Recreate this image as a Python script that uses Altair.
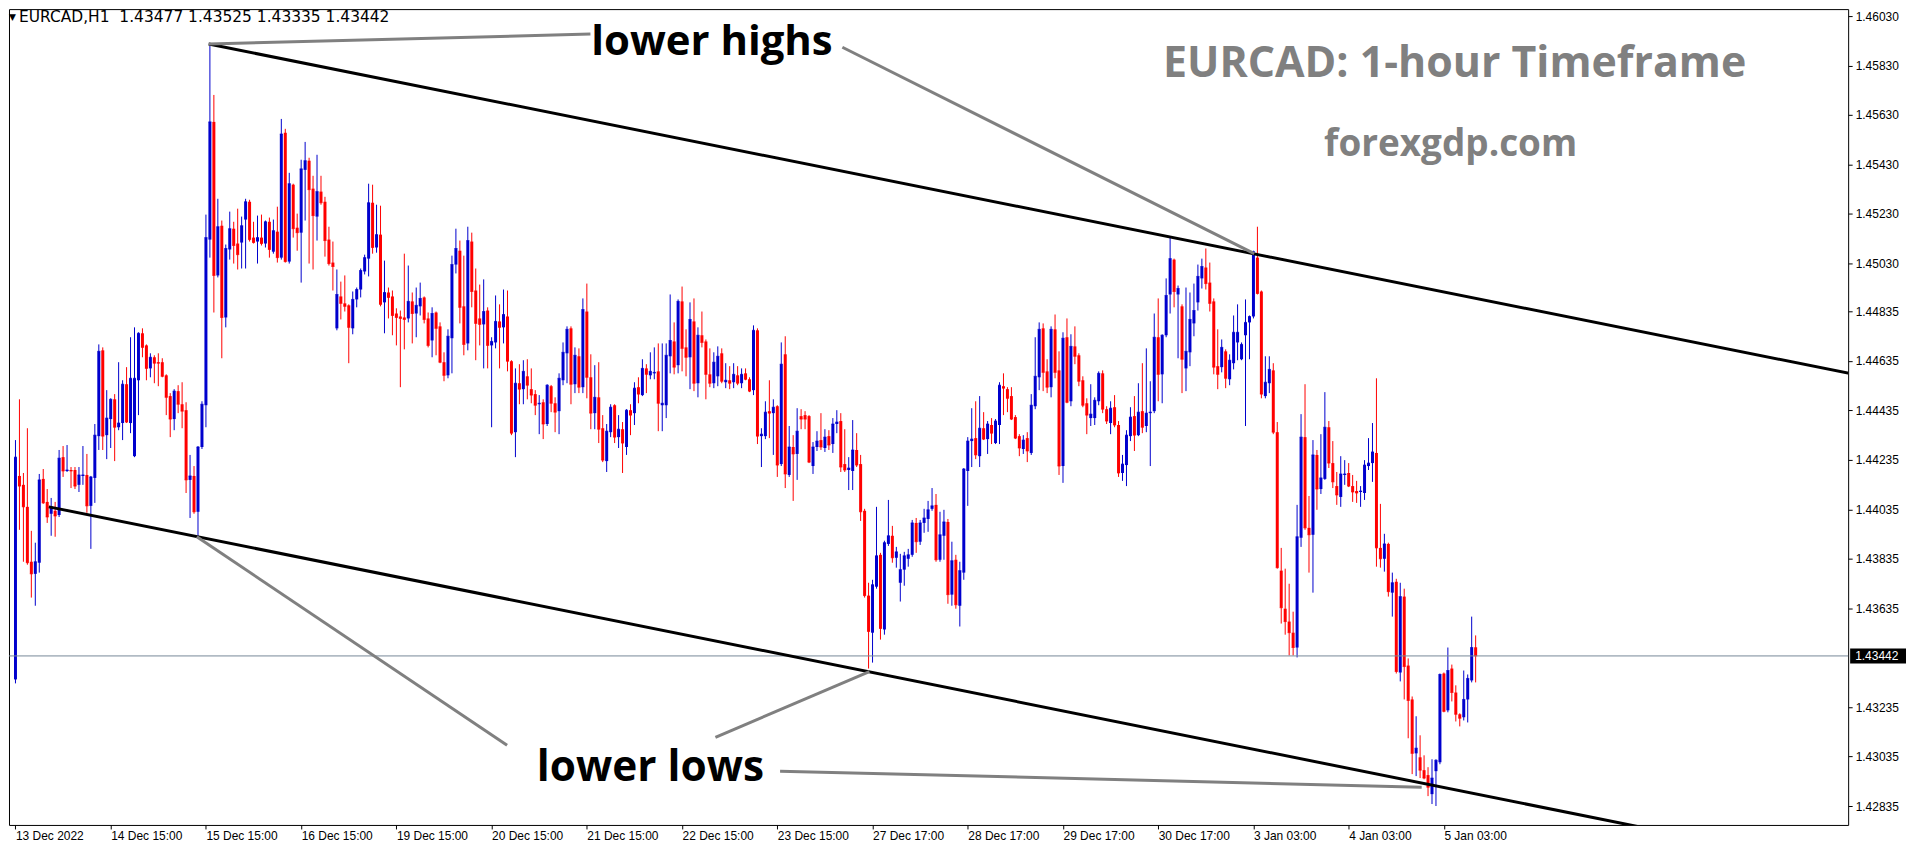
import altair as alt
import pandas as pd

# ---------------- data (EURCAD H1 candles) ----------------
OPEN = [
    1.43347, 1.44170, 1.44134, 1.44045, 1.43823, 1.43774, 1.43819, 1.44158, 1.44065, 1.44017,
    1.44029, 1.44012, 1.44246, 1.44190, 1.44194, 1.44194, 1.44134, 1.44170, 1.44174, 1.44049,
    1.44162, 1.44331, 1.44678, 1.44335, 1.44400, 1.44480, 1.44367, 1.44384, 1.44541, 1.44384,
    1.44250, 1.44557, 1.44747, 1.44698, 1.44605, 1.44650, 1.44630, 1.44630, 1.44577, 1.44493,
    1.44400, 1.44513, 1.44460, 1.44436, 1.44154, 1.44170, 1.44025, 1.44287, 1.44456, 1.45126,
    1.45602, 1.44981, 1.45182, 1.44811, 1.45086, 1.45170, 1.45110, 1.45114, 1.45207, 1.45279,
    1.45134, 1.45118, 1.45134, 1.45110, 1.45198, 1.45077, 1.45158, 1.45053, 1.45558, 1.45037,
    1.45348, 1.45174, 1.45154, 1.45408, 1.45445, 1.45332, 1.45219, 1.45320, 1.45279, 1.45126,
    1.45033, 1.44767, 1.44896, 1.44868, 1.44860, 1.44767, 1.44884, 1.44924, 1.44997, 1.45049,
    1.45275, 1.45094, 1.45146, 1.44872, 1.44912, 1.44896, 1.44827, 1.44815, 1.44811, 1.44807,
    1.44876, 1.44827, 1.44856, 1.44892, 1.44807, 1.44718, 1.44831, 1.44775, 1.44630, 1.44577,
    1.44727, 1.45025, 1.45081, 1.44856, 1.44706, 1.45118, 1.44920, 1.44807, 1.44783, 1.44839,
    1.44698, 1.44710, 1.44795, 1.44771, 1.44815, 1.44634, 1.44347, 1.44545, 1.44521, 1.44573,
    1.44521, 1.44501, 1.44460, 1.44468, 1.44380, 1.44533, 1.44464, 1.44432, 1.44557, 1.44666,
    1.44767, 1.44541, 1.44654, 1.44529, 1.44835, 1.44569, 1.44424, 1.44488, 1.44363, 1.44230,
    1.44347, 1.44456, 1.44327, 1.44359, 1.44287, 1.44436, 1.44424, 1.44529, 1.44497, 1.44605,
    1.44577, 1.44585, 1.44593, 1.44456, 1.44456, 1.44654, 1.44714, 1.44618, 1.44876, 1.44690,
    1.44650, 1.44795, 1.44545, 1.44739, 1.44714, 1.44581, 1.44545, 1.44573, 1.44666, 1.44549,
    1.44557, 1.44549, 1.44577, 1.44545, 1.44585, 1.44561, 1.44517, 1.44759, 1.44331, 1.44331,
    1.44432, 1.44424, 1.44452, 1.44218, 1.44662, 1.44174, 1.44287, 1.44259, 1.44412, 1.44416,
    1.44412, 1.44210, 1.44287, 1.44315, 1.44283, 1.44331, 1.44299, 1.44380, 1.44392, 1.44218,
    1.44194, 1.44190, 1.44275, 1.44218, 1.44029, 1.43686, 1.43536, 1.43722, 1.43851, 1.43549,
    1.43895, 1.43928, 1.43839, 1.43738, 1.43791, 1.43835, 1.43851, 1.43980, 1.43904, 1.43980,
    1.43996, 1.44037, 1.44053, 1.43831, 1.43928, 1.43984, 1.43690, 1.43831, 1.43645, 1.43779,
    1.44190, 1.44311, 1.44323, 1.44250, 1.44363, 1.44319, 1.44376, 1.44303, 1.44376, 1.44533,
    1.44521, 1.44493, 1.44408, 1.44331, 1.44279, 1.44323, 1.44263, 1.44452, 1.44569, 1.44767,
    1.44593, 1.44529, 1.44763, 1.44597, 1.44210, 1.44731, 1.44472, 1.44694, 1.44658, 1.44557,
    1.44464, 1.44404, 1.44404, 1.44472, 1.44585, 1.44440, 1.44384, 1.44448, 1.44376, 1.44182,
    1.44214, 1.44331, 1.44412, 1.44335, 1.44432, 1.44372, 1.44424, 1.44432, 1.44731, 1.44581,
    1.44739, 1.44904, 1.45045, 1.44904, 1.44856, 1.44605, 1.44670, 1.44787, 1.44872, 1.44969,
    1.45013, 1.44952, 1.44876, 1.44614, 1.44610, 1.44674, 1.44561, 1.44626, 1.44710, 1.44642,
    1.44739, 1.44791, 1.44815, 1.45053, 1.44916, 1.44493, 1.44545, 1.44597, 1.44347, 1.43787,
    1.43633, 1.43581, 1.43536, 1.43476, 1.43920, 1.44327, 1.43960, 1.43932, 1.44255, 1.44117,
    1.44158, 1.44367, 1.44222, 1.44129, 1.44085, 1.44174, 1.44182, 1.44129, 1.44109, 1.44105,
    1.44101, 1.44210, 1.44222, 1.44263, 1.43879, 1.43835, 1.43895, 1.43698, 1.43742, 1.43375,
    1.43682, 1.43403, 1.43266, 1.43048, 1.43032, 1.42980, 1.42960, 1.42883, 1.42976, 1.43012,
    1.43371, 1.43222, 1.43391, 1.43294, 1.43206, 1.43194, 1.43266, 1.43343, 1.43477,
]
HIGH = [
    1.44315, 1.44480, 1.44182, 1.44363, 1.43948, 1.43900, 1.44178, 1.44198, 1.44117, 1.44081,
    1.44065, 1.44275, 1.44291, 1.44295, 1.44206, 1.44206, 1.44206, 1.44291, 1.44259, 1.44170,
    1.44380, 1.44702, 1.44690, 1.44517, 1.44484, 1.44501, 1.44630, 1.44557, 1.44610, 1.44731,
    1.44771, 1.44751, 1.44767, 1.44702, 1.44666, 1.44658, 1.44666, 1.44646, 1.44581, 1.44505,
    1.44521, 1.44537, 1.44549, 1.44468, 1.44255, 1.44210, 1.44291, 1.44472, 1.45227, 1.45917,
    1.45711, 1.45291, 1.45203, 1.45106, 1.45239, 1.45198, 1.45251, 1.45219, 1.45291, 1.45287,
    1.45198, 1.45223, 1.45227, 1.45203, 1.45215, 1.45207, 1.45259, 1.45614, 1.45574, 1.45396,
    1.45352, 1.45231, 1.45449, 1.45521, 1.45457, 1.45384, 1.45469, 1.45384, 1.45299, 1.45178,
    1.45118, 1.45005, 1.44956, 1.44981, 1.44864, 1.44916, 1.44932, 1.45009, 1.45065, 1.45352,
    1.45348, 1.45267, 1.45263, 1.45041, 1.44932, 1.44920, 1.44848, 1.44839, 1.45069, 1.45021,
    1.44912, 1.44932, 1.44952, 1.44896, 1.44831, 1.44852, 1.44835, 1.44791, 1.44670, 1.44763,
    1.45061, 1.45170, 1.45122, 1.45061, 1.45178, 1.45154, 1.45009, 1.44944, 1.44965, 1.44852,
    1.44731, 1.44900, 1.44864, 1.44924, 1.44920, 1.44638, 1.44605, 1.44622, 1.44638, 1.44642,
    1.44605, 1.44517, 1.44497, 1.44480, 1.44541, 1.44538, 1.44488, 1.44585, 1.44710, 1.44775,
    1.44775, 1.44690, 1.44686, 1.44888, 1.44948, 1.44662, 1.44618, 1.44630, 1.44416, 1.44380,
    1.44460, 1.44460, 1.44416, 1.44388, 1.44440, 1.44460, 1.44549, 1.44569, 1.44642, 1.44622,
    1.44670, 1.44690, 1.44706, 1.44706, 1.44706, 1.44904, 1.44791, 1.44884, 1.44936, 1.44763,
    1.44872, 1.44888, 1.44771, 1.44835, 1.44722, 1.44686, 1.44670, 1.44694, 1.44686, 1.44626,
    1.44614, 1.44626, 1.44614, 1.44605, 1.44605, 1.44569, 1.44779, 1.44767, 1.44363, 1.44472,
    1.44557, 1.44480, 1.44456, 1.44710, 1.44735, 1.44372, 1.44335, 1.44444, 1.44440, 1.44432,
    1.44416, 1.44307, 1.44351, 1.44424, 1.44359, 1.44355, 1.44404, 1.44436, 1.44424, 1.44359,
    1.44246, 1.44396, 1.44343, 1.44255, 1.44037, 1.43738, 1.43750, 1.44045, 1.43859, 1.43908,
    1.44073, 1.43968, 1.43883, 1.43855, 1.43863, 1.43875, 1.43992, 1.44000, 1.43992, 1.44037,
    1.44069, 1.44121, 1.44097, 1.44025, 1.44033, 1.43996, 1.43904, 1.43851, 1.43823, 1.44202,
    1.44327, 1.44444, 1.44472, 1.44493, 1.44428, 1.44392, 1.44404, 1.44400, 1.44549, 1.44585,
    1.44529, 1.44529, 1.44416, 1.44339, 1.44335, 1.44347, 1.44501, 1.44731, 1.44791, 1.44787,
    1.44642, 1.44775, 1.44823, 1.44674, 1.44751, 1.44807, 1.44743, 1.44775, 1.44666, 1.44573,
    1.44484, 1.44541, 1.44488, 1.44593, 1.44597, 1.44452, 1.44472, 1.44497, 1.44392, 1.44255,
    1.44355, 1.44448, 1.44493, 1.44545, 1.44626, 1.44686, 1.44553, 1.44827, 1.44888, 1.44743,
    1.44969, 1.45134, 1.45049, 1.44940, 1.44864, 1.44932, 1.44912, 1.44948, 1.45025, 1.45049,
    1.45090, 1.45033, 1.44888, 1.44763, 1.44722, 1.44682, 1.44662, 1.44819, 1.44864, 1.44710,
    1.44884, 1.44819, 1.45081, 1.45178, 1.44920, 1.44654, 1.44654, 1.44626, 1.44388, 1.43879,
    1.43795, 1.43734, 1.43621, 1.44053, 1.44420, 1.44541, 1.44089, 1.44315, 1.44275, 1.44339,
    1.44509, 1.44392, 1.44311, 1.44186, 1.44250, 1.44234, 1.44222, 1.44174, 1.44150, 1.44129,
    1.44234, 1.44323, 1.44384, 1.44565, 1.44057, 1.43936, 1.43900, 1.43779, 1.43754, 1.43738,
    1.43714, 1.43432, 1.43278, 1.43198, 1.43121, 1.43040, 1.42992, 1.43024, 1.43024, 1.43371,
    1.43375, 1.43476, 1.43407, 1.43323, 1.43210, 1.43383, 1.43367, 1.43601, 1.43525,
]
LOW = [
    1.43331, 1.43952, 1.43823, 1.43811, 1.43678, 1.43645, 1.43779, 1.44057, 1.43980, 1.43928,
    1.43924, 1.44004, 1.44166, 1.44186, 1.44121, 1.44117, 1.44105, 1.44134, 1.44021, 1.43875,
    1.44061, 1.44275, 1.44275, 1.44238, 1.44283, 1.44230, 1.44355, 1.44315, 1.44384, 1.44343,
    1.44246, 1.44416, 1.44650, 1.44557, 1.44569, 1.44545, 1.44533, 1.44569, 1.44416, 1.44327,
    1.44355, 1.44424, 1.44363, 1.44101, 1.44000, 1.44017, 1.43924, 1.44279, 1.44367, 1.45053,
    1.44831, 1.44973, 1.44646, 1.44771, 1.45045, 1.45029, 1.45005, 1.45009, 1.45009, 1.45118,
    1.45110, 1.45029, 1.45102, 1.45094, 1.45053, 1.45069, 1.45033, 1.45045, 1.45033, 1.45029,
    1.45134, 1.45081, 1.44952, 1.45203, 1.45029, 1.45005, 1.45122, 1.45267, 1.45057, 1.45021,
    1.44920, 1.44759, 1.44803, 1.44835, 1.44626, 1.44743, 1.44852, 1.44892, 1.44985, 1.44977,
    1.45069, 1.45073, 1.44856, 1.44747, 1.44807, 1.44739, 1.44698, 1.44529, 1.44682, 1.44791,
    1.44706, 1.44731, 1.44819, 1.44787, 1.44690, 1.44650, 1.44658, 1.44626, 1.44553, 1.44565,
    1.44585, 1.44989, 1.44787, 1.44658, 1.44678, 1.44852, 1.44638, 1.44698, 1.44605, 1.44605,
    1.44367, 1.44686, 1.44605, 1.44706, 1.44593, 1.44335, 1.44246, 1.44460, 1.44460, 1.44480,
    1.44464, 1.44416, 1.44339, 1.44319, 1.44372, 1.44428, 1.44347, 1.44339, 1.44537, 1.44545,
    1.44460, 1.44505, 1.44505, 1.44505, 1.44484, 1.44359, 1.44359, 1.44303, 1.44226, 1.44186,
    1.44327, 1.44303, 1.44283, 1.44182, 1.44255, 1.44335, 1.44376, 1.44464, 1.44493, 1.44505,
    1.44561, 1.44561, 1.44351, 1.44351, 1.44404, 1.44585, 1.44581, 1.44585, 1.44593, 1.44573,
    1.44521, 1.44513, 1.44488, 1.44690, 1.44480, 1.44529, 1.44525, 1.44533, 1.44545, 1.44525,
    1.44521, 1.44525, 1.44537, 1.44525, 1.44557, 1.44509, 1.44497, 1.44299, 1.44206, 1.44319,
    1.44323, 1.44255, 1.44166, 1.44210, 1.44121, 1.44166, 1.44069, 1.44154, 1.44359, 1.44359,
    1.44222, 1.44178, 1.44271, 1.44275, 1.44267, 1.44275, 1.44263, 1.44343, 1.44186, 1.44186,
    1.44113, 1.44113, 1.44206, 1.43988, 1.43678, 1.43391, 1.43415, 1.43714, 1.43508, 1.43528,
    1.43887, 1.43819, 1.43799, 1.43662, 1.43726, 1.43803, 1.43843, 1.43859, 1.43891, 1.43940,
    1.43944, 1.44029, 1.43823, 1.43823, 1.43831, 1.43653, 1.43645, 1.43633, 1.43561, 1.43750,
    1.44049, 1.44206, 1.44238, 1.44206, 1.44315, 1.44259, 1.44299, 1.44299, 1.44299, 1.44416,
    1.44428, 1.44396, 1.44319, 1.44250, 1.44259, 1.44226, 1.44255, 1.44440, 1.44517, 1.44513,
    1.44505, 1.44488, 1.44565, 1.44174, 1.44142, 1.44464, 1.44452, 1.44622, 1.44533, 1.44448,
    1.44339, 1.44372, 1.44376, 1.44456, 1.44424, 1.44380, 1.44339, 1.44367, 1.44166, 1.44150,
    1.44129, 1.44311, 1.44271, 1.44331, 1.44343, 1.44347, 1.44210, 1.44424, 1.44472, 1.44464,
    1.44731, 1.44827, 1.44852, 1.44646, 1.44505, 1.44513, 1.44614, 1.44735, 1.44839, 1.44928,
    1.44924, 1.44835, 1.44581, 1.44521, 1.44589, 1.44525, 1.44537, 1.44601, 1.44638, 1.44638,
    1.44372, 1.44642, 1.44807, 1.44904, 1.44484, 1.44484, 1.44505, 1.44339, 1.43795, 1.43573,
    1.43528, 1.43444, 1.43444, 1.43436, 1.43883, 1.43952, 1.43779, 1.43698, 1.44033, 1.44097,
    1.44154, 1.44202, 1.44121, 1.44053, 1.44045, 1.44134, 1.44125, 1.44065, 1.44061, 1.44045,
    1.44073, 1.44194, 1.44146, 1.43803, 1.43799, 1.43783, 1.43682, 1.43601, 1.43371, 1.43339,
    1.43266, 1.43109, 1.42964, 1.42956, 1.42948, 1.42943, 1.42875, 1.42843, 1.42835, 1.43004,
    1.43214, 1.43214, 1.43258, 1.43177, 1.43157, 1.43181, 1.43173, 1.43335, 1.43335,
]
CLOSE = [
    1.44246, 1.44129, 1.44045, 1.43819, 1.43774, 1.43823, 1.44154, 1.44061, 1.44004, 1.44045,
    1.44008, 1.44242, 1.44190, 1.44194, 1.44190, 1.44129, 1.44174, 1.44174, 1.44049, 1.44166,
    1.44335, 1.44674, 1.44331, 1.44404, 1.44480, 1.44367, 1.44384, 1.44541, 1.44388, 1.44565,
    1.44565, 1.44747, 1.44690, 1.44605, 1.44650, 1.44626, 1.44626, 1.44573, 1.44488, 1.44400,
    1.44513, 1.44460, 1.44432, 1.44154, 1.44170, 1.44025, 1.44287, 1.44460, 1.45134, 1.45602,
    1.44981, 1.45178, 1.44811, 1.45090, 1.45170, 1.45102, 1.45065, 1.45182, 1.45279, 1.45126,
    1.45114, 1.45134, 1.45110, 1.45198, 1.45086, 1.45162, 1.45053, 1.45553, 1.45037, 1.45352,
    1.45170, 1.45154, 1.45412, 1.45445, 1.45328, 1.45223, 1.45320, 1.45275, 1.45122, 1.45029,
    1.45017, 1.44904, 1.44868, 1.44856, 1.44771, 1.44884, 1.44924, 1.45001, 1.45053, 1.45275,
    1.45094, 1.45146, 1.44864, 1.44912, 1.44892, 1.44819, 1.44811, 1.44807, 1.44803, 1.44876,
    1.44827, 1.44860, 1.44888, 1.44803, 1.44698, 1.44827, 1.44767, 1.44630, 1.44577, 1.44735,
    1.45025, 1.45090, 1.44852, 1.44702, 1.45122, 1.44916, 1.44787, 1.44783, 1.44835, 1.44698,
    1.44714, 1.44795, 1.44771, 1.44823, 1.44634, 1.44343, 1.44545, 1.44521, 1.44593, 1.44537,
    1.44497, 1.44456, 1.44464, 1.44380, 1.44537, 1.44464, 1.44428, 1.44565, 1.44670, 1.44763,
    1.44541, 1.44658, 1.44529, 1.44843, 1.44569, 1.44424, 1.44488, 1.44359, 1.44234, 1.44351,
    1.44448, 1.44327, 1.44359, 1.44303, 1.44436, 1.44416, 1.44525, 1.44501, 1.44605, 1.44581,
    1.44593, 1.44589, 1.44464, 1.44464, 1.44658, 1.44718, 1.44610, 1.44876, 1.44686, 1.44650,
    1.44803, 1.44545, 1.44739, 1.44710, 1.44581, 1.44545, 1.44630, 1.44654, 1.44553, 1.44557,
    1.44545, 1.44581, 1.44545, 1.44581, 1.44561, 1.44513, 1.44759, 1.44331, 1.44339, 1.44428,
    1.44424, 1.44448, 1.44214, 1.44622, 1.44178, 1.44287, 1.44259, 1.44351, 1.44400, 1.44400,
    1.44226, 1.44287, 1.44311, 1.44287, 1.44327, 1.44295, 1.44380, 1.44388, 1.44206, 1.44194,
    1.44202, 1.44275, 1.44214, 1.44025, 1.43686, 1.43541, 1.43730, 1.43847, 1.43553, 1.43900,
    1.43928, 1.43839, 1.43863, 1.43791, 1.43847, 1.43851, 1.43980, 1.43904, 1.43980, 1.44000,
    1.44033, 1.44049, 1.43831, 1.43932, 1.43984, 1.43690, 1.43827, 1.43649, 1.43787, 1.44198,
    1.44311, 1.44319, 1.44255, 1.44363, 1.44319, 1.44380, 1.44343, 1.44392, 1.44537, 1.44525,
    1.44484, 1.44400, 1.44323, 1.44283, 1.44315, 1.44271, 1.44456, 1.44573, 1.44763, 1.44589,
    1.44529, 1.44763, 1.44589, 1.44210, 1.44727, 1.44468, 1.44694, 1.44654, 1.44553, 1.44456,
    1.44416, 1.44420, 1.44476, 1.44585, 1.44440, 1.44392, 1.44444, 1.44376, 1.44182, 1.44218,
    1.44335, 1.44408, 1.44335, 1.44428, 1.44367, 1.44424, 1.44428, 1.44731, 1.44581, 1.44739,
    1.44900, 1.45049, 1.44916, 1.44928, 1.44642, 1.44674, 1.44803, 1.44839, 1.44977, 1.45017,
    1.44948, 1.44868, 1.44610, 1.44581, 1.44690, 1.44565, 1.44638, 1.44751, 1.44751, 1.44702,
    1.44791, 1.44815, 1.45077, 1.44908, 1.44501, 1.44549, 1.44601, 1.44347, 1.43799, 1.43637,
    1.43581, 1.43536, 1.43476, 1.43924, 1.44327, 1.43960, 1.43932, 1.44255, 1.44117, 1.44162,
    1.44367, 1.44222, 1.44146, 1.44093, 1.44178, 1.44178, 1.44129, 1.44105, 1.44101, 1.44109,
    1.44214, 1.44222, 1.44267, 1.43879, 1.43835, 1.43895, 1.43702, 1.43738, 1.43379, 1.43682,
    1.43399, 1.43262, 1.43048, 1.43069, 1.42980, 1.42948, 1.42911, 1.42948, 1.43020, 1.43367,
    1.43218, 1.43383, 1.43294, 1.43206, 1.43190, 1.43266, 1.43351, 1.43476, 1.43442,
]

X_TICK_BARS = [0, 24, 48, 72, 96, 120, 144, 168, 192, 216, 240, 264, 288, 312, 336, 360]
X_TICK_LABELS = ["13 Dec 2022", "14 Dec 15:00", "15 Dec 15:00", "16 Dec 15:00", "19 Dec 15:00",
                 "20 Dec 15:00", "21 Dec 15:00", "22 Dec 15:00", "23 Dec 15:00", "27 Dec 17:00",
                 "28 Dec 17:00", "29 Dec 17:00", "30 Dec 17:00", "3 Jan 03:00", "4 Jan 03:00",
                 "5 Jan 03:00"]
Y_TICKS = [1.46030, 1.45830, 1.45630, 1.45430, 1.45230, 1.45030, 1.44835, 1.44635,
           1.44435, 1.44235, 1.44035, 1.43835, 1.43635, 1.43235, 1.43035, 1.42835]
LAST_PRICE = 1.43442
HEADER = "EURCAD,H1\u00a0 1.43477 1.43525 1.43335 1.43442"

# channel lines (bar index, price)
TREND_X0 = [48.7, 8.4]
TREND_Y0 = [1.45917, 1.44045]
TREND_X1 = [462.2, 420.0]
TREND_Y1 = [1.44585, 1.42716]

# grey pointer lines
POINT_X0 = [48.7, 208.4, 45.7, 176.4, 192.7]
POINT_Y0 = [1.45917, 1.45904, 1.43924, 1.43113, 1.42976]
POINT_X1 = [144.9, 312.2, 123.9, 215.2, 354.4]
POINT_Y1 = [1.45957, 1.45069, 1.43081, 1.43379, 1.42911]

LABEL_TEXT = ["lower highs", "lower lows"]
LABEL_X = [145.1, 131.4]
LABEL_Y = [1.45872, 1.42935]
LABEL_SIZE = [42, 42.5]

WATERMARK_TEXT = ["EURCAD: 1-hour Timeframe", "forexgdp.com"]
WATERMARK_X = [362.7, 361.7]
WATERMARK_Y = [1.45783, 1.45465]
WATERMARK_SIZE = [43, 37]

# ---------------- chart ----------------
W, H = 1844, 818
BLUE, RED = "#0000CD", "#FF0000"

df = pd.DataFrame({"bar": list(range(len(OPEN))), "open": OPEN, "high": HIGH,
                   "low": LOW, "close": CLOSE})
df["dir"] = ["up" if c >= o else "down" for o, c in zip(OPEN, CLOSE)]

xs = alt.Scale(domain=[-0.375, 460.625], nice=False, zero=False)
ys = alt.Scale(domain=[1.427584, 1.460582], nice=False, zero=False)

labels_js = "[" + ",".join("'%s'" % s for s in X_TICK_LABELS) + "]"
bars_js = "[" + ",".join(str(b) for b in X_TICK_BARS) + "]"

xaxis = alt.Axis(orient="bottom", values=X_TICK_BARS,
                 labelExpr=f"{labels_js}[indexof({bars_js}, datum.value)]",
                 tickSize=4, tickColor="black", labelPadding=2, labelAlign="left",
                 labelColor="black", labelFont="Liberation Sans", labelFontSize=12,
                 domain=False, grid=False, title=None, labelOverlap=False, labelFlush=False)
yaxis = alt.Axis(orient="right", values=Y_TICKS, format=".5f", tickSize=4,
                 tickColor="black", labelPadding=3, labelColor="black",
                 labelFont="Liberation Sans", labelFontSize=12, domain=False,
                 grid=False, title=None, labelOverlap=False)

def X(f):
    return alt.X(f, type="quantitative", scale=xs, axis=xaxis)

def Y(f):
    return alt.Y(f, type="quantitative", scale=ys, axis=yaxis)

color = alt.Color("dir:N", scale=alt.Scale(domain=["up", "down"], range=[BLUE, RED]), legend=None)

base = alt.Chart(df)
wicks = base.mark_rule(strokeWidth=1).encode(x=X("bar"), y=Y("low"), y2="high", color=color)
bodies = base.mark_bar(size=3).encode(x=X("bar"), y=Y("open"), y2="close", color=color)
doji = base.mark_tick(orient="horizontal", size=3, thickness=1).encode(
    x=X("bar"), y=Y("close"), color=color)

bid_df = pd.DataFrame({"price": [LAST_PRICE], "label": ["%.5f" % LAST_PRICE]})
bid_line = alt.Chart(bid_df).mark_rule(color="#778899", strokeWidth=1).encode(y=Y("price"))
bid_box = alt.Chart(bid_df).mark_tick(orient="horizontal", size=56, thickness=15,
                                      color="black", opacity=1).encode(
    x=alt.value(W + 30), y=Y("price"))
bid_text = alt.Chart(bid_df).mark_text(align="left", baseline="middle", color="white",
                                       font="Liberation Sans", fontSize=12).encode(
    x=alt.value(W + 7), y=Y("price"), text="label:N")

trend_df = pd.DataFrame({"x0": TREND_X0, "y0": TREND_Y0, "x1": TREND_X1, "y1": TREND_Y1})
trend = alt.Chart(trend_df).mark_rule(color="black", strokeWidth=3, clip=True).encode(
    x=X("x0"), x2="x1", y=Y("y0"), y2="y1")

point_df = pd.DataFrame({"x0": POINT_X0, "y0": POINT_Y0, "x1": POINT_X1, "y1": POINT_Y1})
pointers = alt.Chart(point_df).mark_rule(color="#808080", strokeWidth=3, clip=True).encode(
    x=X("x0"), x2="x1", y=Y("y0"), y2="y1")

lab_df = pd.DataFrame({"x": LABEL_X, "y": LABEL_Y, "t": LABEL_TEXT, "s": LABEL_SIZE})
labels = alt.Chart(lab_df).mark_text(align="left", baseline="alphabetic", font="Open Sans",
                                     fontWeight="bold", color="black").encode(
    x=X("x"), y=Y("y"), text="t:N", size=alt.Size("s:Q", scale=None, legend=None))

wm_df = pd.DataFrame({"x": WATERMARK_X, "y": WATERMARK_Y, "t": WATERMARK_TEXT,
                      "s": WATERMARK_SIZE})
watermark = alt.Chart(wm_df).mark_text(align="center", baseline="alphabetic", font="Open Sans",
                                       fontWeight="bold", color="#808080").encode(
    x=X("x"), y=Y("y"), text="t:N",
    size=alt.Size("s:Q", scale=None, legend=None))

hdr_df = pd.DataFrame({"t": [HEADER], "tri": ["\u25bc"]})
header = alt.Chart(hdr_df).mark_text(align="left", baseline="middle", font="DejaVu Sans",
                                     fontSize=15.5, color="black").encode(
    x=alt.value(10), y=alt.value(8), text="t:N")
tri = alt.Chart(hdr_df).mark_text(align="left", baseline="middle", font="DejaVu Sans",
                                  fontSize=9, color="black").encode(
    x=alt.value(0), y=alt.value(8), text="tri:N")

chart = alt.layer(
    wicks, bodies, doji, bid_line, trend, pointers, labels, watermark,
    bid_box, bid_text, header, tri
).properties(
    width=W, height=H,
    padding={"left": 0, "top": 0, "right": 2, "bottom": 2},
    background="white",
).configure_view(stroke="black", strokeWidth=1)

chart.save("out.html", embed_options={"renderer": "svg", "actions": False})
